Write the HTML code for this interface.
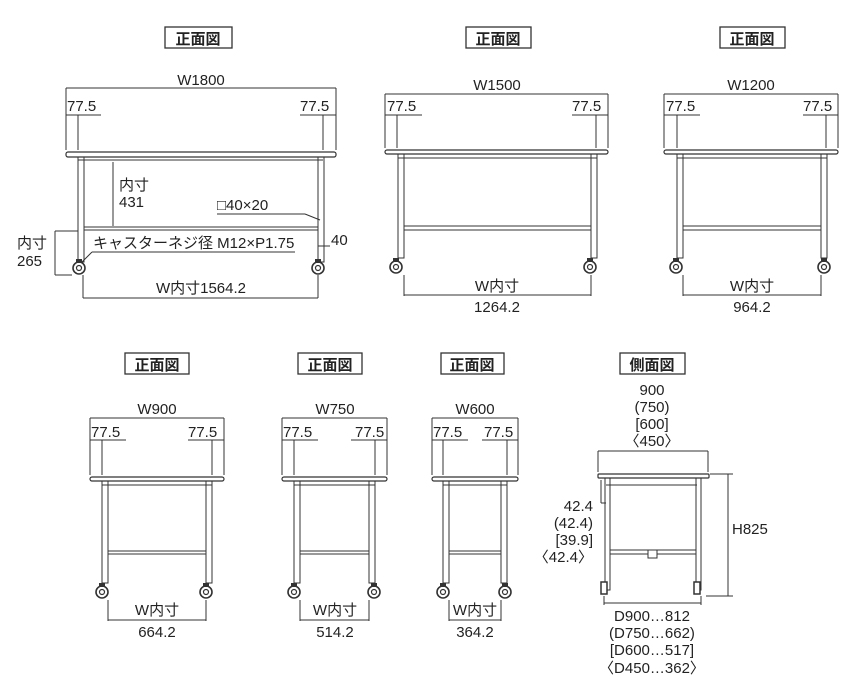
<!DOCTYPE html>
<html><head><meta charset="utf-8"><style>
html,body{margin:0;padding:0;background:#fff}
svg{display:block}
text{font-family:"Liberation Sans","Noto Sans CJK JP",sans-serif;font-size:15px;fill:#222}
.t{font-weight:bold;font-size:15px}
</style></head><body>
<svg width="860" height="700" viewBox="0 0 860 700" xmlns="http://www.w3.org/2000/svg">
<defs>
<g id="cas"><circle cx="0" cy="0" r="6" fill="#fff" stroke="#333" stroke-width="1.6"/><circle cx="0" cy="0" r="2.5" fill="none" stroke="#333" stroke-width="1.2"/><rect x="-3" y="-9" width="6" height="4" fill="#333"/></g>
</defs>
<g stroke="#333" fill="none" stroke-width="1">
<!-- T1 -->
<rect x="165" y="27" width="67" height="21" stroke-width="1.3"/>
<line x1="66" y1="88" x2="336" y2="88"/><line x1="66" y1="88" x2="66" y2="150"/><line x1="336" y1="88" x2="336" y2="150"/>
<line x1="66" y1="115" x2="101" y2="115"/><line x1="300" y1="115" x2="336" y2="115"/>
<line x1="78" y1="115" x2="78" y2="150"/><line x1="323" y1="115" x2="323" y2="150"/>
<rect x="66" y="152" width="270" height="5" rx="2" stroke-width="1.2"/>
<line x1="78" y1="160" x2="323" y2="160"/>
<rect x="78" y="157" width="6" height="105"/><rect x="318" y="157" width="6" height="105"/>
<rect x="84" y="227" width="234" height="3"/>
<line x1="113" y1="162" x2="113" y2="226"/>
<line x1="55" y1="231" x2="78" y2="231"/><line x1="55" y1="275" x2="72" y2="275"/><line x1="55" y1="231" x2="55" y2="275"/>
<line x1="92" y1="252" x2="295" y2="252"/><line x1="92" y1="252" x2="80" y2="264"/>
<line x1="217" y1="214" x2="305" y2="214"/><line x1="305" y1="214" x2="320" y2="220"/>
<line x1="318" y1="246" x2="330" y2="246"/>
<line x1="83" y1="275" x2="83" y2="298"/><line x1="318" y1="275" x2="318" y2="298"/><line x1="83" y1="298" x2="318" y2="298"/>
<!-- T2 -->
<rect x="466" y="27" width="65" height="21" stroke-width="1.3"/>
<line x1="385" y1="94" x2="608" y2="94"/><line x1="385" y1="94" x2="385" y2="148"/><line x1="608" y1="94" x2="608" y2="148"/>
<line x1="385" y1="115" x2="422" y2="115"/><line x1="572" y1="115" x2="608" y2="115"/>
<line x1="397" y1="115" x2="397" y2="148"/><line x1="596" y1="115" x2="596" y2="148"/>
<rect x="385" y="150" width="223" height="4" rx="2" stroke-width="1.2"/>
<line x1="398" y1="158" x2="597" y2="158"/>
<rect x="398" y="154" width="6" height="104"/><rect x="591" y="154" width="6" height="104"/>
<rect x="404" y="226" width="187" height="4"/>
<line x1="404" y1="275" x2="404" y2="296"/><line x1="591" y1="275" x2="591" y2="296"/><line x1="404" y1="295" x2="591" y2="295"/>
<!-- T3 -->
<rect x="720" y="27" width="65" height="21" stroke-width="1.3"/>
<line x1="664" y1="94" x2="838" y2="94"/><line x1="664" y1="94" x2="664" y2="148"/><line x1="838" y1="94" x2="838" y2="148"/>
<line x1="664" y1="115" x2="700" y2="115"/><line x1="803" y1="115" x2="838" y2="115"/>
<line x1="677" y1="115" x2="677" y2="148"/><line x1="826" y1="115" x2="826" y2="148"/>
<rect x="664" y="150" width="174" height="4" rx="2" stroke-width="1.2"/>
<line x1="677" y1="158" x2="827" y2="158"/>
<rect x="677" y="154" width="6" height="104"/><rect x="821" y="154" width="6" height="104"/>
<rect x="683" y="226" width="138" height="4"/>
<line x1="683" y1="275" x2="683" y2="296"/><line x1="821" y1="275" x2="821" y2="296"/><line x1="683" y1="295" x2="821" y2="295"/>
<!-- T4 -->
<rect x="125" y="353" width="64" height="21" stroke-width="1.3"/>
<line x1="90" y1="418" x2="224" y2="418"/><line x1="90" y1="418" x2="90" y2="475"/><line x1="224" y1="418" x2="224" y2="475"/>
<line x1="90" y1="440" x2="126" y2="440"/><line x1="188" y1="440" x2="224" y2="440"/>
<line x1="102" y1="440" x2="102" y2="475"/><line x1="212" y1="440" x2="212" y2="475"/>
<rect x="90" y="477" width="134" height="4" rx="2" stroke-width="1.2"/>
<line x1="102" y1="485" x2="212" y2="485"/>
<rect x="102" y="481" width="6" height="102"/><rect x="206" y="481" width="6" height="102"/>
<rect x="108" y="551" width="98" height="3"/>
<line x1="108" y1="600" x2="108" y2="621"/><line x1="206" y1="600" x2="206" y2="621"/><line x1="108" y1="620" x2="206" y2="620"/>
<!-- T5 -->
<rect x="298" y="353" width="64" height="21" stroke-width="1.3"/>
<line x1="282" y1="418" x2="387" y2="418"/><line x1="282" y1="418" x2="282" y2="475"/><line x1="387" y1="418" x2="387" y2="475"/>
<line x1="282" y1="440" x2="318" y2="440"/><line x1="351" y1="440" x2="387" y2="440"/>
<line x1="294" y1="440" x2="294" y2="475"/><line x1="375" y1="440" x2="375" y2="475"/>
<rect x="282" y="477" width="105" height="4" rx="2" stroke-width="1.2"/>
<line x1="294" y1="485" x2="375" y2="485"/>
<rect x="294" y="481" width="6" height="102"/><rect x="369" y="481" width="6" height="102"/>
<rect x="300" y="551" width="69" height="3"/>
<line x1="300" y1="600" x2="300" y2="621"/><line x1="369" y1="600" x2="369" y2="621"/><line x1="300" y1="620" x2="369" y2="620"/>
<!-- T6 -->
<rect x="441" y="353" width="63" height="21" stroke-width="1.3"/>
<line x1="432" y1="418" x2="518" y2="418"/><line x1="432" y1="418" x2="432" y2="475"/><line x1="518" y1="418" x2="518" y2="475"/>
<line x1="432" y1="440" x2="468" y2="440"/><line x1="482" y1="440" x2="518" y2="440"/>
<line x1="443" y1="440" x2="443" y2="475"/><line x1="507" y1="440" x2="507" y2="475"/>
<rect x="432" y="477" width="86" height="4" rx="2" stroke-width="1.2"/>
<line x1="443" y1="485" x2="507" y2="485"/>
<rect x="443" y="481" width="6" height="102"/><rect x="501" y="481" width="6" height="102"/>
<rect x="449" y="551" width="52" height="3"/>
<line x1="449" y1="600" x2="449" y2="621"/><line x1="501" y1="600" x2="501" y2="621"/><line x1="449" y1="620" x2="501" y2="620"/>
<!-- Side -->
<rect x="620" y="353" width="65" height="21" stroke-width="1.3"/>
<line x1="598" y1="451" x2="708" y2="451"/><line x1="598" y1="451" x2="598" y2="472"/><line x1="708" y1="451" x2="708" y2="472"/>
<rect x="598" y="474" width="111" height="4" rx="1" stroke-width="1.2"/>
<line x1="606" y1="485" x2="697" y2="485"/>
<rect x="605" y="478" width="5" height="112"/><rect x="696" y="478" width="5" height="112"/>
<rect x="610" y="550" width="86" height="4"/>
<rect x="648" y="550" width="9" height="8" fill="#fff"/>
<line x1="601" y1="480" x2="601" y2="503"/><line x1="601" y1="503" x2="606" y2="503"/>
<line x1="710" y1="474" x2="733" y2="474"/><line x1="706" y1="596" x2="733" y2="596"/><line x1="728" y1="474" x2="728" y2="596"/>
<line x1="604" y1="596" x2="604" y2="605"/><line x1="701" y1="596" x2="701" y2="605"/><line x1="604" y1="603" x2="701" y2="603"/>
<rect x="601" y="582" width="6" height="12" fill="#fff" stroke-width="1.5"/><rect x="694" y="582" width="6" height="12" fill="#fff" stroke-width="1.5"/>
</g>
<use href="#cas" x="79" y="268"/><use href="#cas" x="318" y="268"/>
<use href="#cas" x="396" y="267"/><use href="#cas" x="590" y="267"/>
<use href="#cas" x="676" y="267"/><use href="#cas" x="824" y="267"/>
<use href="#cas" x="102" y="592"/><use href="#cas" x="206" y="592"/>
<use href="#cas" x="294" y="592"/><use href="#cas" x="374" y="592"/>
<use href="#cas" x="443" y="592"/><use href="#cas" x="505" y="592"/>
<g>
<text class="t" x="198" y="44" text-anchor="middle">正面図</text>
<text class="t" x="498" y="44" text-anchor="middle">正面図</text>
<text class="t" x="752" y="44" text-anchor="middle">正面図</text>
<text class="t" x="157" y="370" text-anchor="middle">正面図</text>
<text class="t" x="330" y="370" text-anchor="middle">正面図</text>
<text class="t" x="472" y="370" text-anchor="middle">正面図</text>
<text class="t" x="652" y="370" text-anchor="middle">側面図</text>
<text x="201" y="85" text-anchor="middle">W1800</text>
<text x="67" y="111">77.5</text><text x="300" y="111">77.5</text>
<text x="119" y="190">内寸</text><text x="119" y="207">431</text>
<text x="217" y="210">□40×20</text>
<text x="331" y="245">40</text>
<text x="17" y="248">内寸</text><text x="17" y="266">265</text>
<text x="93" y="248">キャスターネジ径 M12×P1.75</text>
<text x="201" y="293" text-anchor="middle">W内寸1564.2</text>
<text x="497" y="90" text-anchor="middle">W1500</text>
<text x="387" y="111">77.5</text><text x="572" y="111">77.5</text>
<text x="497" y="291" text-anchor="middle">W内寸</text>
<text x="497" y="312" text-anchor="middle">1264.2</text>
<text x="751" y="90" text-anchor="middle">W1200</text>
<text x="666" y="111">77.5</text><text x="803" y="111">77.5</text>
<text x="752" y="291" text-anchor="middle">W内寸</text>
<text x="752" y="312" text-anchor="middle">964.2</text>
<text x="157" y="414" text-anchor="middle">W900</text>
<text x="91" y="437">77.5</text><text x="188" y="437">77.5</text>
<text x="157" y="615" text-anchor="middle">W内寸</text>
<text x="157" y="637" text-anchor="middle">664.2</text>
<text x="335" y="414" text-anchor="middle">W750</text>
<text x="283" y="437">77.5</text><text x="355" y="437">77.5</text>
<text x="335" y="615" text-anchor="middle">W内寸</text>
<text x="335" y="637" text-anchor="middle">514.2</text>
<text x="475" y="414" text-anchor="middle">W600</text>
<text x="433" y="437">77.5</text><text x="484" y="437">77.5</text>
<text x="475" y="615" text-anchor="middle">W内寸</text>
<text x="475" y="637" text-anchor="middle">364.2</text>
<text x="652" y="395" text-anchor="middle">900</text>
<text x="652" y="412" text-anchor="middle">(750)</text>
<text x="652" y="429" text-anchor="middle">[600]</text>
<text x="652" y="446" text-anchor="middle">〈450〉</text>
<text x="593" y="511" text-anchor="end">42.4</text>
<text x="593" y="528" text-anchor="end">(42.4)</text>
<text x="593" y="545" text-anchor="end">[39.9]</text>
<text x="593" y="562" text-anchor="end">〈42.4〉</text>
<text x="732" y="534">H825</text>
<text x="652" y="621" text-anchor="middle">D900…812</text>
<text x="652" y="638" text-anchor="middle">(D750…662)</text>
<text x="652" y="655" text-anchor="middle">[D600…517]</text>
<text x="652" y="673" text-anchor="middle">〈D450…362〉</text>
</g>
</svg>
</body></html>
